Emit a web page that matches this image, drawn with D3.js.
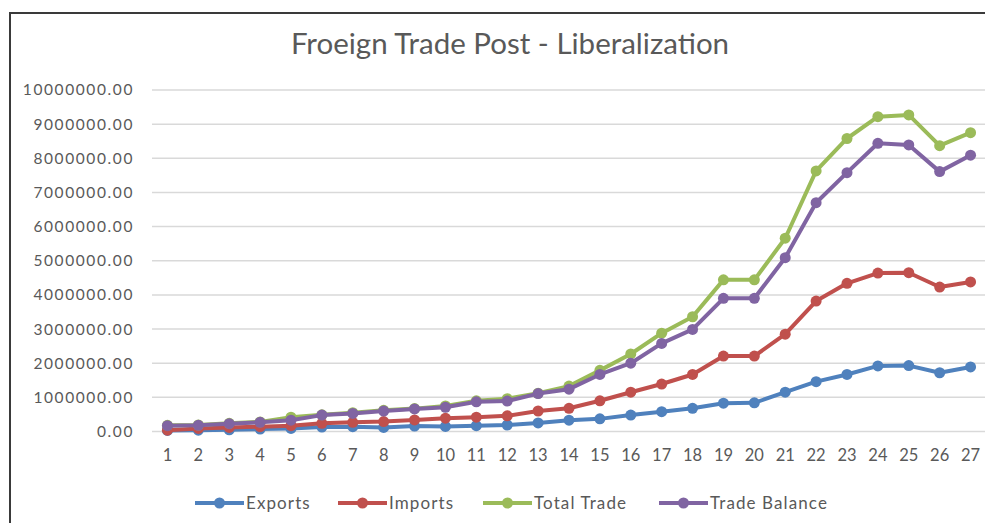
<!DOCTYPE html>
<html><head><meta charset="utf-8">
<script src="https://cdn.jsdelivr.net/npm/d3@7"></script>
<style>body{margin:0;background:#fff;}svg{display:block;}</style>
</head><body>
<svg id="chart" width="985" height="523"></svg>
<script>
const categories = d3.range(1, 28).map(String);
const exportsVals = [30000,40000,50000,70000,90000,130000,140000,120000,160000,150000,170000,190000,250000,330000,370000,480000,580000,680000,830000,840000,1150000,1460000,1670000,1920000,1930000,1720000,1890000];
const importsVals = [40000,90000,120000,140000,170000,240000,270000,290000,340000,390000,420000,460000,600000,680000,900000,1150000,1390000,1670000,2210000,2210000,2850000,3820000,4340000,4640000,4650000,4230000,4380000];
const totalVals = [180000,190000,240000,280000,420000,490000,550000,620000,670000,750000,900000,960000,1120000,1330000,1790000,2270000,2880000,3360000,4440000,4440000,5660000,7630000,8580000,9220000,9270000,8370000,8750000];
const balanceVals = [170000,180000,230000,270000,330000,480000,530000,600000,660000,710000,870000,890000,1110000,1240000,1670000,2000000,2580000,2990000,3900000,3900000,5090000,6700000,7580000,8440000,8390000,7610000,8090000];
const seriesNames = ["Exports","Imports","Total Trade","Trade Balance"];
const seriesColors = ["#4F81BD","#C0504D","#9BBB59","#8064A2"];
const yTicks = d3.range(0, 10000001, 1000000);
const title = "Froeign Trade Post - Liberalization";

(function(){
const series = [exportsVals, importsVals, totalVals, balanceVals].map((v,i)=>({name:seriesNames[i], color:seriesColors[i], values:v}));

const svg = d3.select("#chart");
const font = "Lato, 'Open Sans', sans-serif";
const pLeft = 152, pRight = 986, pTop = 90, pBottom = 431.5;

svg.append("rect").attr("x",10).attr("y",13).attr("width",990).attr("height",520)
  .attr("fill","#fff").attr("stroke","#3a3a3a").attr("stroke-width",2);

svg.append("text").attr("x",510).attr("y",54).attr("text-anchor","middle")
  .attr("font-family",font).attr("font-size",29.5).attr("fill","#595959").text(title);

const x = d3.scaleBand().domain(categories).range([pLeft, pRight]);
const y = d3.scaleLinear().domain([0, 10000000]).range([pBottom, pTop]);

svg.append("g").selectAll("line").data(yTicks).join("line")
  .attr("x1",pLeft).attr("x2",pRight).attr("y1",d=>y(d)).attr("y2",d=>y(d))
  .attr("stroke","#d9d9d9").attr("stroke-width",1.5);

const yAxis = svg.append("g").attr("transform",`translate(${pLeft-18},0)`)
  .call(d3.axisLeft(y).tickValues(yTicks).tickSize(0).tickPadding(0).tickFormat(d=>d3.format(".2f")(d)));
yAxis.select(".domain").remove();
yAxis.selectAll("text").attr("font-family",font).attr("font-size",15.5).attr("fill","#595959").attr("letter-spacing","1.6px");

const xAxis = svg.append("g").attr("transform",`translate(0,${pBottom})`)
  .call(d3.axisBottom(x).tickSize(0).tickPadding(18));
xAxis.select(".domain").remove();
xAxis.selectAll("text").attr("font-family",font).attr("font-size",16.5).attr("fill","#595959");

const cx = c => x(c) + x.bandwidth()/2;
const line = d3.line().x((d,i)=>cx(categories[i])).y(d=>y(d));

const g = svg.append("g");
series.forEach(s=>{
  g.append("path").datum(s.values).attr("d",line).attr("fill","none")
    .attr("stroke",s.color).attr("stroke-width",4).attr("stroke-linejoin","round").attr("stroke-linecap","round");
  g.append("g").selectAll("circle").data(s.values).join("circle")
    .attr("cx",(d,i)=>cx(categories[i])).attr("cy",d=>y(d)).attr("r",5.5).attr("fill",s.color);
});

const legendX = [195, 338, 483, 659];
const lg = svg.append("g");
series.forEach((s,i)=>{
  const gx = legendX[i], gy = 503;
  lg.append("line").attr("x1",gx).attr("x2",gx+49).attr("y1",gy).attr("y2",gy).attr("stroke",s.color).attr("stroke-width",4);
  lg.append("circle").attr("cx",gx+24.5).attr("cy",gy).attr("r",5.5).attr("fill",s.color);
  lg.append("text").attr("x",gx+51).attr("y",gy).attr("dy","0.35em").attr("font-family",font)
    .attr("font-size",17).attr("fill","#595959").attr("letter-spacing","1.1px").text(s.name);
});
})();
</script>
</body></html>
